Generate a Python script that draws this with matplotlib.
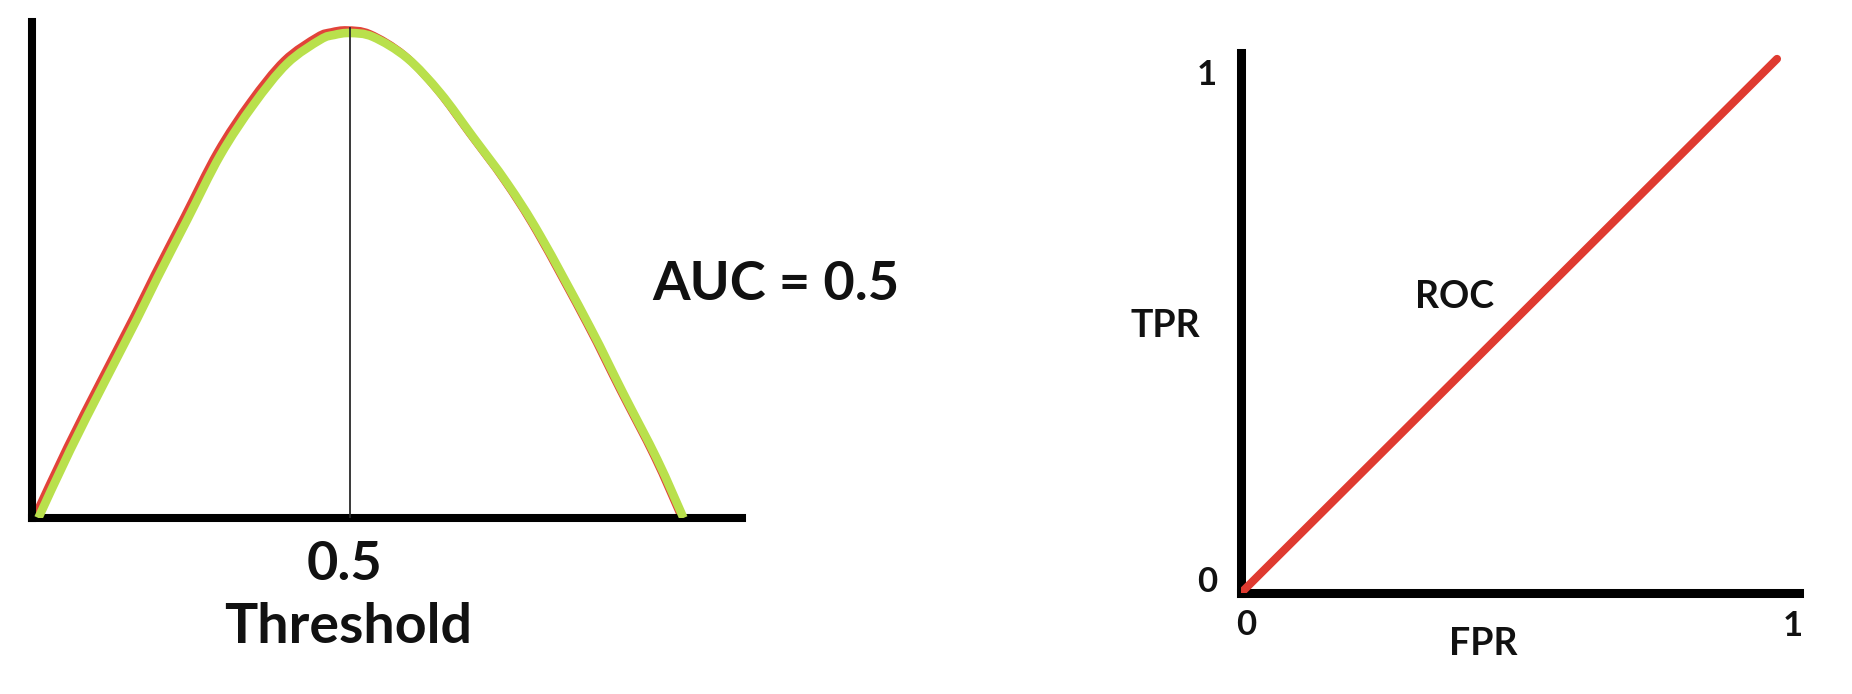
import matplotlib
matplotlib.use("Agg")
import matplotlib.pyplot as plt
import matplotlib.transforms as mtransforms
from matplotlib.path import Path
from matplotlib.patches import PathPatch

# ---------------- data ----------------
threshold_x = [0.01, 0.06, 0.112, 0.165, 0.197, 0.244, 0.296, 0.348, 0.401, 0.453,
               0.475, 0.5, 0.536, 0.590, 0.642, 0.693, 0.747, 0.799, 0.877,
               0.929, 0.983, 1.024]
curve_y = [0.0, 0.14, 0.275, 0.41, 0.495, 0.615, 0.748, 0.852, 0.937, 0.986,
           0.996, 1.0, 0.992, 0.948, 0.876, 0.786, 0.690, 0.582, 0.394,
           0.258, 0.120, 0.0]
threshold = 0.5
auc_text = "AUC = 0.5"

fpr = [0.0, 1.0]
tpr = [0.0, 1.0]

# ---------------- figure ----------------
W, H, DPI = 1852, 694, 100
fig = plt.figure(figsize=(W / DPI, H / DPI), dpi=DPI)
fig.patch.set_facecolor("white")
FONT = "Lato"


def px_axes(l, t, r, b):
    return fig.add_axes([l / W, 1 - b / H, (r - l) / W, (b - t) / H])


def px_text(x, y, s, size, **kw):
    fig.text(x / W, 1 - y / H, s, fontsize=size, fontfamily=FONT,
             fontweight="bold", ha="center", va="baseline", color="#111111", **kw)


def style_axes(ax, lw):
    for side in ("top", "right"):
        ax.spines[side].set_visible(False)
    for side in ("left", "bottom"):
        ax.spines[side].set_linewidth(lw)
        ax.spines[side].set_color("black")
        ax.spines[side].set_capstyle("projecting")
    ax.set_xticks([])
    ax.set_yticks([])
    ax.patch.set_alpha(0)


def smooth_path(xs, ys):
    """Catmull-Rom spline through the read points, as cubic Bezier segments."""
    pts = list(zip(xs, ys))
    n = len(pts)
    verts = [pts[0]]
    codes = [Path.MOVETO]
    for i in range(n - 1):
        p0 = pts[max(i - 1, 0)]
        p1 = pts[i]
        p2 = pts[i + 1]
        p3 = pts[min(i + 2, n - 1)]
        c1 = (p1[0] + (p2[0] - p0[0]) / 6, p1[1] + (p2[1] - p0[1]) / 6)
        c2 = (p2[0] - (p3[0] - p1[0]) / 6, p2[1] - (p3[1] - p1[1]) / 6)
        verts += [c1, c2, p2]
        codes += [Path.CURVE4] * 3
    return Path(verts, codes)


# ---- left panel ----
ax1 = px_axes(32, 22, 742, 518)
ax1.set_xlim(0, 1.116)
ax1.set_ylim(0, 1.0227)
style_axes(ax1, 5.8)

curve_path = smooth_path(threshold_x, curve_y)
offset = mtransforms.ScaledTranslation(-3 / DPI, 3 / DPI, fig.dpi_scale_trans)
red_patch = PathPatch(curve_path, fill=False, edgecolor="#e2433a", lw=5.5,
                      joinstyle="round", capstyle="butt",
                      transform=ax1.transData + offset, zorder=2)
green_patch = PathPatch(curve_path, fill=False, edgecolor="#b9e04c", lw=6.2,
                        joinstyle="round", capstyle="butt",
                        transform=ax1.transData, zorder=3)
ax1.add_patch(red_patch)
ax1.add_patch(green_patch)
ax1.plot([threshold, threshold], [0, 1.01], color="#2a2a2a", lw=1.3, zorder=4)

px_text(345, 580, "0.5", 39)
px_text(348, 643, "Threshold", 40)
px_text(776, 300, auc_text, 39)

# ---- right panel ----
ax2 = px_axes(1241, 53, 1799, 593)
ax2.set_xlim(0, 1.041)
ax2.set_ylim(0, 1.011)
style_axes(ax2, 6.5)
ax2.plot(fpr, tpr, color="#df3a30", lw=5.8, solid_capstyle="round", zorder=3)

px_text(1207, 85, "1", 25)
px_text(1207, 592, "0", 25)
px_text(1246, 635, "0", 25)
px_text(1793, 636, "1", 25)
px_text(1483, 655, "FPR", 27)
px_text(1165, 337, "TPR", 27)
px_text(1455, 308, "ROC", 27)

fig.savefig("out.png", dpi=DPI, facecolor="white")
